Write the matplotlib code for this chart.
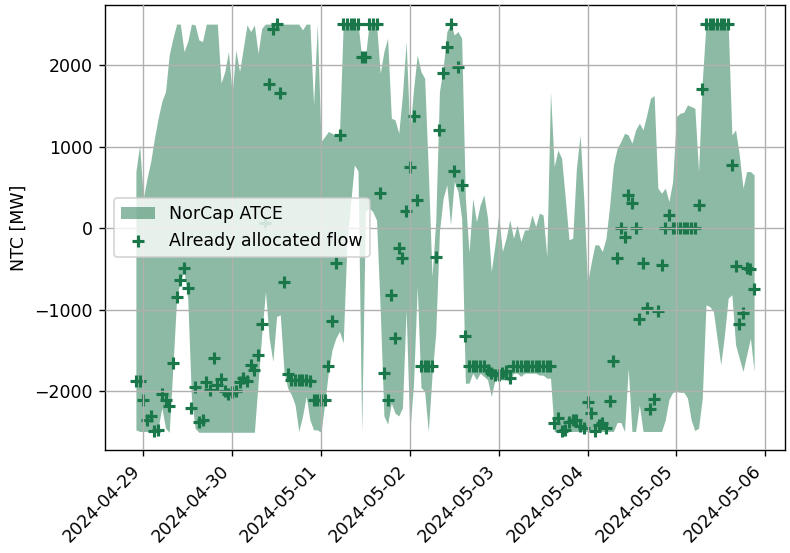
import matplotlib
matplotlib.use("Agg")
import matplotlib.pyplot as plt
import matplotlib.dates as mdates
import numpy as np
import pandas as pd

# hourly values, 2024-04-28 22:00 .. 2024-05-05 21:00
start = "2024-04-28 22:00"

flow = [-1870, -1870, -2102, -2347, -2306, -2490, -2470, -2033, -2102, -2184,
        -1653, -837, -633, -490, -727, -2204, -1951, -2368, -2347, -1878,
        -1980, -1584, -1918, -1845, -2000, -2033, -2008, -1992, -1878, -1830,
        -1870, -1673, -1735, -1551, -1175, 61, 1763, 2441, 2500, 1661,
        -661, -1788, -1857, -1857, -1857, -1857, -1857, -1870, -2102, -2102,
        -2102, -2102, -1682, -1135, -421, 1140, 2500, 2500, 2500, 2500,
        2500, 2102, 2102, 2500, 2500, 2500, 428, -1776, -2102, -817,
        -1343, -237, -367, 216, 747, 1376, 347, -1686, -1686, -1686,
        -1686, -347, 1204, 1898, 2216, 2500, 706, 1980, 531, -1318,
        -1682, -1682, -1682, -1682, -1682, -1740, -1776, -1796, -1796, -1776,
        -1755, -1837, -1682, -1682, -1682, -1682, -1682, -1682, -1682, -1682,
        -1682, -1682, -1682, -2388, -2327, -2490, -2470, -2368, -2347, -2347,
        -2429, -2449, -2123, -2265, -2490, -2408, -2388, -2449, -2115, -1625,
        -359, 8, -102, 408, 306, 0, -1110, -429, -972, -2212,
        -2090, -1020, -449, 0, 163, 0, 0, 0, 0, 0,
        0, 0, 286, 1702, 2500, 2500, 2500, 2500, 2500, 2500,
        2500, 776, -469, -1176, -1041, -490, -502, -743]

atce_max = [694, 1020, 367, 612, 816, 1102, 1347, 1551, 1674, 2123,
            2327, 2500, 2500, 2163, 2286, 2500, 2490, 2306, 2286, 2500,
            2500, 2500, 2500, 1776, 1918, 2163, 1653, 2184, 1918, 2204,
            2490, 2408, 2490, 2143, 2449, 2500, 2500, 2500, 2500, 2500,
            2500, 2500, 2500, 2500, 2500, 2429, 2500, 2500, 1510, 2500,
            1061, 1122, 1184, 1163, 1122, 1160, 2500, 2500, 2500, 2500,
            2500, 2102, 2102, 2500, 2500, 2500, 1898, 2163, 2327, 1347,
            1327, 1163, 1633, 2286, 1184, 1700, 2123, 1918, 1837, 694,
            -592, 82, 1674, 1959, 2408, 2500, 2367, 2408, 2327, 367,
            -300, 367, 80, 286, 408, 122, -531, -204, 163, -286,
            -122, 102, -122, 41, -163, -20, -20, 163, 20, 184,
            163, -347, 1674, 755, 959, 857, 367, -143, -122, 735,
            1143, 350, -670, -420, -204, -204, -286, -122, 286, 776,
            980, 1061, 1163, 1143, 1041, 1204, 1286, 1204, 1388, 1592,
            1625, 490, 429, 490, 327, 571, 1367, 1408, 1420, 1510,
            1490, 1469, 694, 1796, 2500, 2500, 2500, 2500, 2500, 2500,
            2500, 1143, 1204, 898, 490, 694, 694, 653]

atce_min = [-2470, -2490, -2490, -2490, -2490, -2490, -2450, -2200, -2450, -2500,
            -1700, -857, -650, -520, -857, -2082, -2450, -2500, -2500, -2500,
            -2500, -2500, -2500, -2500, -2500, -2500, -2500, -2500, -2500, -2500,
            -2500, -2500, -2500, -1900, -1300, -776, -1347, -1633, -1082, -1061,
            -1755, -1959, -2041, -2163, -2490, -2306, -2061, -2347, -2470, -2470,
            -2500, -2150, -1760, -1490, -1347, -1265, -1408, -200, 300, 776,
            700, -2500, 200, 250, 200, 100, -1000, -2300, -2400, -2143,
            -2265, -2300, -2200, -1000, -2500, -1900, -715, -1950, -2000, -2490,
            -1800, -1286, -41, 367, 531, 41, 571, 449, 122, -1900,
            -1898, -1776, -1857, -1776, -1816, -1857, -2061, -1857, -1857, -1857,
            -1857, -1880, -1776, -1776, -1816, -1776, -1776, -1776, -1776, -1800,
            -1800, -1837, -1837, -2490, -2490, -2490, -2490, -2490, -2490, -2490,
            -2490, -2490, -2490, -2490, -2490, -2490, -2490, -2490, -2490, -2490,
            -2380, -2380, -2490, -1715, -2490, -2490, -2163, -2490, -2490, -2490,
            -2490, -2490, -2490, -2350, -2100, -2012, -2000, -2010, -2010, -2080,
            -2350, -2480, -2449, -2082, -939, -959, -1020, -1347, -1673, -1306,
            -857, -816, -1428, -1592, -1755, -1551, -1347, -1755]

times = pd.date_range(start, periods=len(flow), freq="h")

green = "#1a774a"

# 790x553 px at 125 dpi
fig, ax = plt.subplots(figsize=(790 / 125, 553 / 125), dpi=125)
fig.subplots_adjust(left=105 / 790, right=785 / 790, top=1 - 5 / 553, bottom=1 - 450 / 553)

ax.fill_between(times, atce_min, atce_max, color=green, alpha=0.5, linewidth=0, label="NorCap ATCE")
ax.scatter(times, flow, marker="+", s=42, linewidths=1.8, color=green, label="Already allocated flow")

ax.set_ylim(-2717, 2734)
ax.set_yticks([-2000, -1000, 0, 1000, 2000])
ax.xaxis.set_major_locator(mdates.DayLocator())
ax.xaxis.set_major_formatter(mdates.DateFormatter("%Y-%m-%d"))
plt.setp(ax.get_xticklabels(), rotation=45, ha="right")

ax.set_axisbelow(False)
ax.grid(True)
ax.set_ylabel("NTC [MW]")
ax.legend(loc="center left")

fig.savefig("out.png", dpi=125)
